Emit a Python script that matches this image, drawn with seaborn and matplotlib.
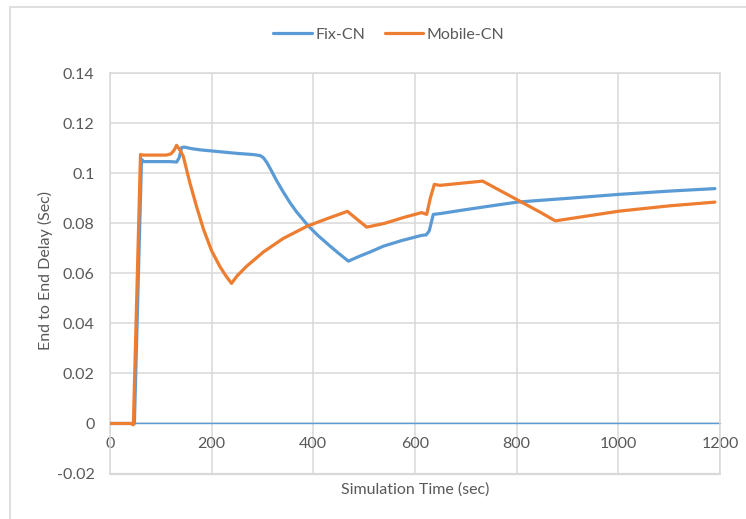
import matplotlib
matplotlib.use("Agg")
import matplotlib.pyplot as plt
import matplotlib.patches as mpatches
from matplotlib.lines import Line2D
import seaborn as sns
import pandas as pd

# ---- data ----
fix_x = [0, 48, 62, 66, 100, 118, 126, 131, 136, 141, 146, 160, 177, 203, 249, 282, 289,
         295, 298, 302, 308, 315, 328, 341, 354, 367, 390, 410, 433, 450, 469, 490, 511,
         538, 575, 613, 622, 628, 636, 649, 700, 750, 801, 846, 900, 1002, 1100, 1190]
fix_y = [0, 0, 0.1056, 0.1047, 0.1047, 0.1047, 0.1046, 0.1045, 0.1062, 0.1103, 0.1105,
         0.1099, 0.1094, 0.1089, 0.1080, 0.1075, 0.1073, 0.1071, 0.1068, 0.1062, 0.1045,
         0.1020, 0.0970, 0.0925, 0.0883, 0.0846, 0.0790, 0.0750, 0.0709, 0.0680, 0.0649,
         0.0668, 0.0685, 0.0709, 0.0732, 0.0752, 0.0754, 0.0770, 0.0836, 0.0839, 0.0855,
         0.0870, 0.0885, 0.0892, 0.0900, 0.0916, 0.0929, 0.0939]

mob_x = [0, 40, 46, 60, 65, 90, 111, 120, 126, 131, 137, 144, 157, 170, 184, 200, 216,
         228, 239, 250, 269, 302, 341, 387, 426, 467, 505, 540, 580, 613, 623, 630, 638,
         649, 733, 846, 876, 950, 1002, 1100, 1190]
mob_y = [0, 0, -0.0005, 0.1075, 0.1073, 0.1073, 0.1073, 0.1078, 0.1092, 0.1112, 0.1095,
         0.1069, 0.0963, 0.0869, 0.0776, 0.0690, 0.0628, 0.0590, 0.0560, 0.0590, 0.0629,
         0.0686, 0.0740, 0.0788, 0.0818, 0.0848, 0.0785, 0.0800, 0.0825, 0.0843, 0.0836,
         0.0900, 0.0956, 0.0952, 0.0969, 0.0845, 0.0810, 0.0833, 0.0849, 0.0870, 0.0885]

series_names = ["Fix-CN", "Mobile-CN"]
colors = ["#5B9BD5", "#ED7D31"]
x_ticks = [0, 200, 400, 600, 800, 1000, 1200]
y_ticks = [-0.02, 0, 0.02, 0.04, 0.06, 0.08, 0.1, 0.12, 0.14]
y_labels = ["-0.02", "0", "0.02", "0.04", "0.06", "0.08", "0.1", "0.12", "0.14"]

df = pd.concat([
    pd.DataFrame({"t": fix_x, "d": fix_y, "s": series_names[0]}),
    pd.DataFrame({"t": mob_x, "d": mob_y, "s": series_names[1]}),
])

sns.set_theme(style="white")
plt.rcParams["font.family"] = ["Lato", "DejaVu Sans"]

fig = plt.figure(figsize=(7.46, 5.19), dpi=100)
ax = fig.add_axes([110 / 746, 1 - 473.5 / 519, 610 / 746, (473.5 - 73.3) / 519])

grid_c = "#d9d9d9"
text_c = "#595959"

sns.lineplot(data=df, x="t", y="d", hue="s", palette=colors, sort=False,
             estimator=None, units="s", linewidth=2.3, legend=False, ax=ax, zorder=3)
for ln in ax.lines:
    ln.set_solid_joinstyle("round")
    ln.set_solid_capstyle("round")

ax.set_xlim(0, 1200)
ax.set_ylim(-0.02, 0.14)
ax.set_xticks(x_ticks)
ax.set_xticklabels([str(v) for v in x_ticks])
ax.set_yticks(y_ticks)
ax.set_yticklabels(y_labels)
ax.grid(True, color=grid_c, linewidth=1.1)
ax.set_axisbelow(True)

for side in ["left", "right", "top"]:
    ax.spines[side].set_color(grid_c)
    ax.spines[side].set_linewidth(1.1)
ax.spines["bottom"].set_position(("data", 0))
ax.spines["bottom"].set_color("#5B9BD5")
ax.spines["bottom"].set_linewidth(1.0)
ax.spines["bottom"].set_zorder(2)
ax.axhline(-0.02, color=grid_c, linewidth=1.6, zorder=1, clip_on=False)

ax.tick_params(axis="x", length=0, pad=10, labelsize=11.5, labelcolor=text_c)
ax.tick_params(axis="y", length=0, pad=11, labelsize=11.5, labelcolor=text_c)

ax.set_xlabel("")
ax.set_ylabel("")
fig.text(415 / 746, 1 - 490 / 519, "Simulation Time (sec)", ha="center", va="center",
         fontsize=11.5, color=text_c)
fig.text(45 / 746, 1 - 270 / 519, "End to End Delay (Sec)", ha="center", va="center",
         rotation=90, fontsize=11.5, color=text_c)

handles = [Line2D([0], [0], color=c, lw=2.3) for c in colors]
fig.legend(handles, series_names, loc="center", bbox_to_anchor=(389 / 746, 1 - 35 / 519),
           ncol=2, frameon=False, fontsize=11.5, labelcolor=text_c, handlelength=2.4,
           handletextpad=0.25, columnspacing=1.2)

fig.patches.append(mpatches.Rectangle((10 / 746, -0.2), 1.2, 1.2 - 7 / 519,
                                      transform=fig.transFigure, fill=False,
                                      edgecolor=grid_c, linewidth=1.2))

fig.savefig("out.png", dpi=100)
